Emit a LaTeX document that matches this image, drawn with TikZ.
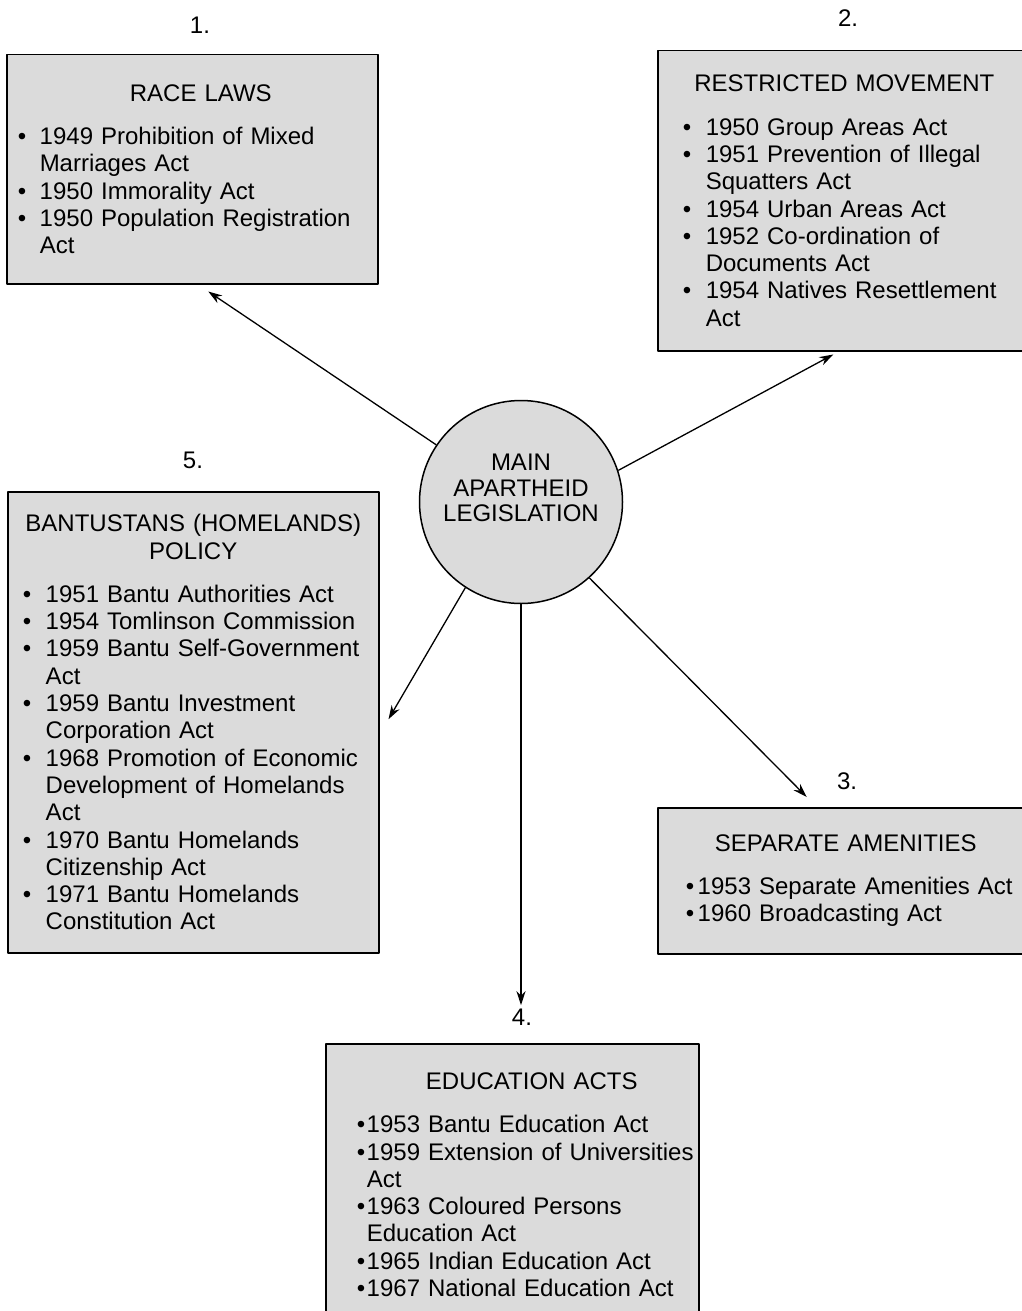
\documentclass[tikz,border=0pt]{standalone}
\usepackage{fontspec}
\setmainfont{Liberation Sans}
\usetikzlibrary{arrows.meta}
\definecolor{boxgray}{gray}{0.86}
\newlength{\padl}
\newlength{\bulletw}
\newcommand{\actfont}{\fontsize{24}{27.3}\selectfont}
\newcommand{\hubfont}{\fontsize{24}{25.5}\selectfont}
% title line(s), optional leftskip to push it off centre
\newcommand{\acttitle}[2][0pt]{{\centering\leftskip=#1 plus 1fil\relax #2\par}\vspace{16pt}}
% one bullet with hanging lines
\newcommand{\actitem}[1]{{\raggedright\let\\\newline\leftskip=\padl\relax\hangindent=\bulletw\hangafter=1\noindent\makebox[\bulletw][l]{\textbullet}#1\par}}
\tikzset{
  actbox/.style 2 args={draw, line width=1.5pt, fill=boxgray, anchor=north west, inner sep=0pt,
    font=\actfont, execute at begin node={\setlength{\padl}{#1}\setlength{\bulletw}{#2}}},
  hub/.style={circle, draw, line width=1.5pt, fill=boxgray, minimum size=203pt, inner sep=0pt},
  numlabel/.style={font=\actfont},
}
\begin{document}
\begin{tikzpicture}[x=1pt, y=-1pt, >={Stealth[length=14pt,width=9pt]}, line join=round]
  \clip (0,0) rectangle (1022,1311);
  % centre
  \node[hub] (main) at (521,502) {};
  \node[align=center, font=\hubfont] (mainlabel) at (521,488) {MAIN\\APARTHEID\\LEGISLATION};
  % the five groups
  \node[actbox={11pt}{22pt}, text width=371pt, minimum height=229pt] (race) at (6,54) {%
    \acttitle[17pt]{RACE LAWS}
    \actitem{1949 Prohibition of Mixed\\Marriages Act}
    \actitem{1950 Immorality Act}
    \actitem{1950 Population Registration\\Act}};
  \node[actbox={25pt}{23pt}, text width=373pt, minimum height=300pt] (movement) at (657,50) {%
    \acttitle{RESTRICTED MOVEMENT}
    \actitem{1950 Group Areas Act}
    \actitem{1951 Prevention of Illegal\\Squatters Act}
    \actitem{1954 Urban Areas Act}
    \actitem{1952 Co-ordination of\\Documents Act}
    \actitem{1954 Natives Resettlement\\Act}};
  \node[actbox={28pt}{12pt}, text width=376pt, minimum height=146pt] (amenities) at (657,807) {%
    \acttitle{SEPARATE AMENITIES}
    \actitem{1953 Separate Amenities Act}
    \actitem{1960 Broadcasting Act}};
  \node[actbox={31pt}{10pt}, text width=373pt, minimum height=282pt] (education) at (325,1043) {%
    \acttitle[39pt]{EDUCATION ACTS}
    \actitem{1953 Bantu Education Act}
    \actitem{1959 Extension of Universities\\Act}
    \actitem{1963 Coloured Persons\\Education Act}
    \actitem{1965 Indian Education Act}
    \actitem{1967 National Education Act}};
  \node[actbox={15pt}{23pt}, text width=371pt, minimum height=461pt] (homelands) at (7,491) {%
    \acttitle{BANTUSTANS (HOMELANDS)\\POLICY}
    \actitem{1951 Bantu Authorities Act}
    \actitem{1954 Tomlinson Commission}
    \actitem{1959 Bantu Self-Government\\Act}
    \actitem{1959 Bantu Investment\\Corporation Act}
    \actitem{1968 Promotion of Economic\\Development of Homelands\\Act}
    \actitem{1970 Bantu Homelands\\Citizenship Act}
    \actitem{1971 Bantu Homelands\\Constitution Act}};
  % numbers
  \node[numlabel] (n1) at (200,25) {1.};
  \node[numlabel] (n2) at (848,18) {2.};
  \node[numlabel] (n3) at (847,781) {3.};
  \node[numlabel] (n4) at (522,1017) {4.};
  \node[numlabel] (n5) at (193,460) {5.};
  % arrows
  \draw[->, line width=1.3pt] (main.146) -- ([shift={(16,7)}]race.south);
  \draw[->, line width=1.3pt] (main.18) -- ([shift={(-11,3)}]movement.south);
  \draw[->, line width=1.3pt] (main.-48) -- ([shift={(-39,-10)}]amenities.north);
  \draw[->, line width=1.3pt] (main.south) -- (main.south |- n4.north);
  \draw[->, line width=1.3pt] (main.-123) -- ([shift={(9,-3)}]homelands.east);
\end{tikzpicture}
\end{document}
